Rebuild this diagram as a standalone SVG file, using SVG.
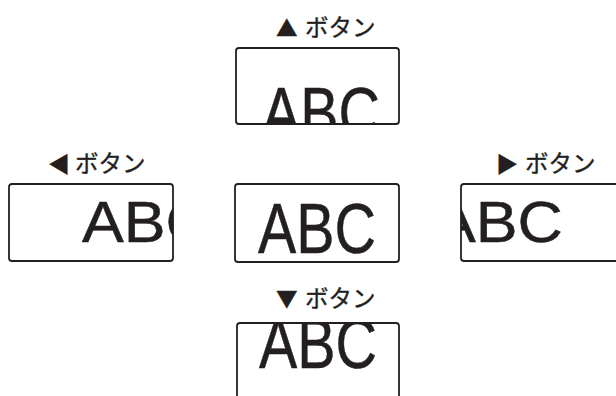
<svg xmlns="http://www.w3.org/2000/svg" width="616" height="396" viewBox="0 0 616 396">
<style>
.box{fill:none;stroke:#231f20;stroke-width:1.8}
.abc{font-family:"Liberation Sans",Arial,sans-serif;font-size:70px;fill:#231f20;stroke:#231f20;stroke-width:0.5}
.abs{font-family:"Liberation Sans",Arial,sans-serif;font-size:57px;fill:#231f20;stroke:#231f20;stroke-width:0.5}
.lbl{font-family:"Noto Sans CJK JP","Noto Sans",sans-serif;fill:#231f20;stroke:#231f20;stroke-width:0.35}
.tri{font-size:21.5px}
.tri2{font-size:22px}
.btn{font-size:23.5px}
</style>
<defs>
<clipPath id="cTop"><rect x="236" y="48" width="163" height="76"/></clipPath>
<clipPath id="cLeft"><rect x="9" y="184" width="164" height="77"/></clipPath>
<clipPath id="cCenter"><rect x="235" y="184" width="164" height="78"/></clipPath>
<clipPath id="cRight"><rect x="461" y="184" width="200" height="77"/></clipPath>
<clipPath id="cBottom"><rect x="237" y="323" width="162" height="100"/></clipPath>
</defs>
<rect width="616" height="396" fill="#fff"/>
<g id="top">
<text class="lbl" y="36"><tspan class="tri" x="276">▲</tspan><tspan class="btn" x="305">ボタン</tspan></text>
<g clip-path="url(#cTop)"><text class="abc" transform="translate(262,137) scale(0.82,1)">ABC</text></g>
<rect class="box" x="236" y="48" width="163" height="76" rx="3"/>
</g>
<g id="left">
<text class="lbl" y="172"><tspan class="tri2" x="48">◀</tspan><tspan class="btn" x="75">ボタン</tspan></text>
<g clip-path="url(#cLeft)"><text class="abs" transform="translate(82,242) scale(1.1,1)">ABC</text></g>
<rect class="box" x="9" y="184" width="164" height="77" rx="3"/>
</g>
<g id="center">
<g clip-path="url(#cCenter)"><text class="abc" transform="translate(258,253) scale(0.82,1)">ABC</text></g>
<rect class="box" x="235" y="184" width="164" height="78" rx="3"/>
</g>
<g id="right">
<text class="lbl" y="172"><tspan class="tri2" x="496">▶</tspan><tspan class="btn" x="525">ボタン</tspan></text>
<g clip-path="url(#cRight)"><text class="abs" transform="translate(434,242) scale(1.1,1)">ABC</text></g>
<rect class="box" x="461" y="184" width="200" height="77" rx="3"/>
</g>
<g id="bottom">
<text class="lbl" y="307"><tspan class="tri" x="276">▼</tspan><tspan class="btn" x="305">ボタン</tspan></text>
<g clip-path="url(#cBottom)"><text class="abc" transform="translate(259,368) scale(0.82,1)">ABC</text></g>
<rect class="box" x="237" y="323" width="162" height="100" rx="3"/>
</g>
<g id="connectors"/>
</svg>
